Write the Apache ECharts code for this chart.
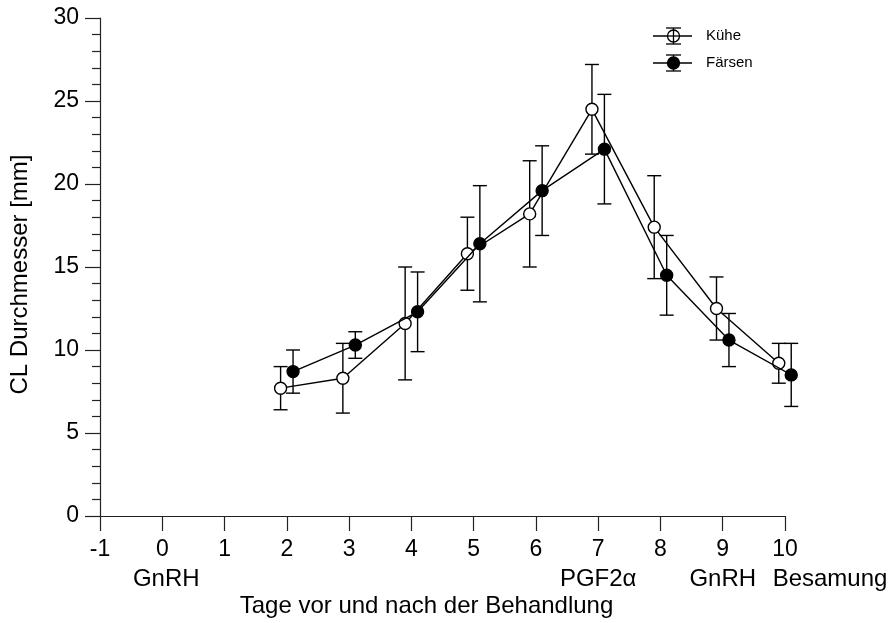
<!DOCTYPE html>
<html>
<head>
<meta charset="utf-8">
<script src="https://cdn.jsdelivr.net/npm/echarts@6/dist/echarts.min.js"></script>
<style>
html,body{margin:0;padding:0;background:#fff;}
#c{width:896px;height:623px;}
</style>
</head>
<body>
<div id="c"></div>
<script>
// ---- data ----
var days = [2, 3, 4, 5, 6, 7, 8, 9, 10];
var kuheMean = [7.7, 8.3, 11.6, 15.8, 18.2, 24.5, 17.4, 12.5, 9.2];
var kuheErr = [1.3, 2.1, 3.4, 2.2, 3.2, 2.7, 3.1, 1.9, 1.2];
var faersenMean = [8.7, 10.3, 12.3, 16.4, 19.6, 22.1, 14.5, 10.6, 8.5];
var faersenErr = [1.3, 0.8, 2.4, 3.5, 2.7, 3.3, 2.4, 1.6, 1.9];
var xTicks = [-1, 0, 1, 2, 3, 4, 5, 6, 7, 8, 9, 10];
var eventLabels = {0: 'GnRH', 7: 'PGF2\u03b1', 9: 'GnRH', 10: 'Besamung'};
var seriesNames = ['K\u00fche', 'F\u00e4rsen'];
var xTitle = 'Tage vor und nach der Behandlung';
var yTitle = 'CL Durchmesser [mm]';

var FONT = '"Liberation Sans", Arial, sans-serif';
var dodge = 0.1;

function pts(mean, off) {
  return days.map(function (d, i) { return [d + off, mean[i]]; });
}
function errPts(mean, err, off) {
  return days.map(function (d, i) { return [d + off, mean[i] - err[i], mean[i] + err[i]]; });
}
function errRender(params, api) {
  var x = api.value(0);
  var lo = api.coord([x, api.value(1)]);
  var hi = api.coord([x, api.value(2)]);
  var hw = 7;
  var st = {stroke: '#000', lineWidth: 1.4};
  return {
    type: 'group',
    children: [
      {type: 'line', shape: {x1: lo[0], y1: lo[1], x2: hi[0], y2: hi[1]}, style: st},
      {type: 'line', shape: {x1: lo[0] - hw, y1: lo[1], x2: lo[0] + hw, y2: lo[1]}, style: st},
      {type: 'line', shape: {x1: hi[0] - hw, y1: hi[1], x2: hi[0] + hw, y2: hi[1]}, style: st}
    ]
  };
}

var chart = echarts.init(document.getElementById('c'), null, {renderer: 'canvas'});
var axisLineStyle = {color: '#222', width: 1.2};

// legend drawn as graphic (error-bar style icons)
function legendItem(y, filled, label) {
  var st = {stroke: '#000', lineWidth: 1.3};
  return {
    type: 'group',
    children: [
      {type: 'line', shape: {x1: 653, y1: y, x2: 692, y2: y}, style: st},
      {type: 'line', shape: {x1: 666, y1: y - 8, x2: 681, y2: y - 8}, style: st},
      {type: 'line', shape: {x1: 666, y1: y + 8, x2: 681, y2: y + 8}, style: st},
      {type: 'line', shape: {x1: 673.5, y1: y - 8, x2: 673.5, y2: y + 8}, style: st},
      {type: 'circle', shape: {cx: 673.5, cy: y, r: 6}, style: {fill: filled ? '#000' : '#fff', stroke: '#000', lineWidth: 1.3}},
      {type: 'line', shape: {x1: 673.5, y1: y - 6, x2: 673.5, y2: y + 6}, style: filled ? {stroke: '#000', lineWidth: 0} : st, z: 10},
      {type: 'line', shape: {x1: 667.5, y1: y, x2: 679.5, y2: y}, style: st, z: 10},
      {type: 'text', style: {text: label, x: 706, y: y, verticalAlign: 'middle', font: '15px ' + FONT, fill: '#000'}}
    ]
  };
}

chart.setOption({
  animation: false,
  backgroundColor: '#fff',
  grid: {left: 100, right: 111, top: 18, bottom: 101, containLabel: false},
  xAxis: [{
    type: 'value', min: -1, max: 10, interval: 1,
    axisLine: {show: true, onZero: false, lineStyle: axisLineStyle},
    axisTick: {show: true, length: 15, lineStyle: axisLineStyle},
    axisLabel: {margin: 22, fontSize: 23, fontFamily: FONT, color: '#000',
      formatter: function (v) { return xTicks.indexOf(v) >= 0 ? String(v) : ''; }},
    splitLine: {show: false},
    name: xTitle, nameLocation: 'middle', nameGap: 78,
    nameTextStyle: {fontSize: 24, fontFamily: FONT, color: '#000', padding: [0, 32, 0, 0]}
  }, {
    type: 'value', min: -1, max: 10, interval: 1, position: 'bottom', offset: 29,
    axisLine: {show: false}, axisTick: {show: false}, splitLine: {show: false},
    axisLabel: {margin: 22, fontSize: 24, fontFamily: FONT, color: '#000',
      showMinLabel: true, showMaxLabel: true,
      formatter: function (v) {
        var t = eventLabels[v];
        if (!t) return '';
        if (v === 10) return '{b|' + t + '}';
        if (v === 0) return '{g|' + t + '}';
        return t;
      },
      rich: {
        b: {fontSize: 24, fontFamily: FONT, color: '#000', padding: [0, 0, 0, 90]},
        g: {fontSize: 24, fontFamily: FONT, color: '#000', padding: [0, 0, 0, 8]}
      }
    }
  }],
  yAxis: {
    type: 'value', min: 0, max: 30, interval: 5,
    axisLine: {show: true, onZero: false, lineStyle: axisLineStyle},
    axisTick: {show: true, length: 15, lineStyle: axisLineStyle},
    minorTick: {show: true, splitNumber: 5, length: 8, lineStyle: axisLineStyle},
    axisLabel: {margin: 21, fontSize: 23, fontFamily: FONT, color: '#000'},
    splitLine: {show: false},
    minorSplitLine: {show: false},
    name: yTitle, nameLocation: 'middle', nameGap: 68, nameRotate: 90,
    nameTextStyle: {fontSize: 24, fontFamily: FONT, color: '#000', padding: [0, 15, 0, 0]}
  },
  series: [
    {type: 'custom', name: seriesNames[0] + ' err', renderItem: errRender, clip: false, data: errPts(kuheMean, kuheErr, -dodge), z: 1},
    {type: 'custom', name: seriesNames[1] + ' err', renderItem: errRender, clip: false, data: errPts(faersenMean, faersenErr, dodge), z: 1},
    {type: 'line', name: seriesNames[0], data: pts(kuheMean, -dodge), z: 3, clip: false,
      symbol: 'circle', symbolSize: 12, showAllSymbol: true,
      lineStyle: {color: '#000', width: 1.4},
      itemStyle: {color: '#fff', borderColor: '#000', borderWidth: 1.4}},
    {type: 'line', name: seriesNames[1], data: pts(faersenMean, dodge), z: 4, clip: false,
      symbol: 'circle', symbolSize: 12, showAllSymbol: true,
      lineStyle: {color: '#000', width: 1.4},
      itemStyle: {color: '#000', borderColor: '#000', borderWidth: 1.4}}
  ],
  graphic: [legendItem(36, false, seriesNames[0]), legendItem(63, true, seriesNames[1])]
});
</script>
</body>
</html>
